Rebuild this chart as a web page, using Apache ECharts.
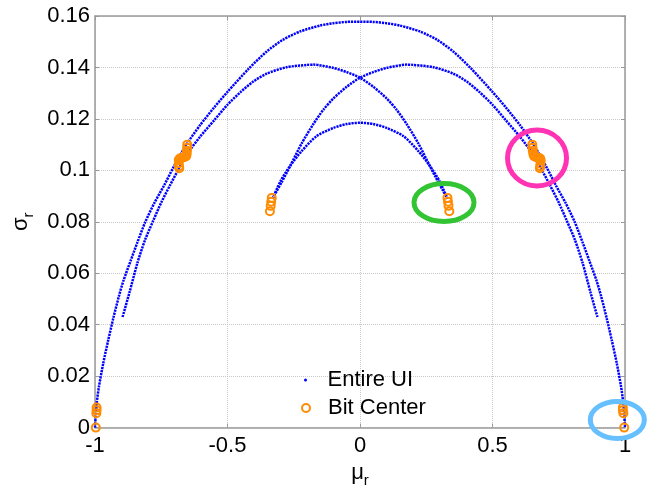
<!DOCTYPE html>
<html>
<head>
<meta charset="utf-8">
<script src="https://cdn.jsdelivr.net/npm/echarts@6/dist/echarts.min.js"></script>
<style>
html,body{margin:0;padding:0;background:#fff;}
#chart{width:648px;height:493px;}
</style>
</head>
<body>
<div id="chart"></div>
<script>
// ---- data (mu_r, sigma_r) ----
var xTicks = [-1, -0.5, 0, 0.5, 1];
var yTicks = [0, 0.02, 0.04, 0.06, 0.08, 0.1, 0.12, 0.14, 0.16];

// outer arc of "Entire UI"
var entireOuter = [
  [-1.000, 0.000], [-0.997, 0.005], [-0.993, 0.010], [-0.985, 0.016],
  [-0.969, 0.025], [-0.950, 0.034], [-0.931, 0.0425], [-0.910, 0.051],
  [-0.893, 0.057], [-0.865, 0.065], [-0.840, 0.072], [-0.810, 0.080],
  [-0.775, 0.0875], [-0.740, 0.094], [-0.705, 0.101], [-0.655, 0.110],
  [-0.604, 0.1175], [-0.550, 0.1245], [-0.500, 0.1305], [-0.420, 0.1395],
  [-0.352, 0.1462], [-0.290, 0.1508], [-0.226, 0.1540], [-0.150, 0.1563],
  [-0.100, 0.1572], [-0.050, 0.1577], [0.000, 0.1578],
  [0.050, 0.1577], [0.100, 0.1572], [0.150, 0.1563], [0.226, 0.1540],
  [0.290, 0.1508], [0.352, 0.1462], [0.420, 0.1395], [0.500, 0.1305],
  [0.550, 0.1245], [0.604, 0.1175], [0.655, 0.110], [0.705, 0.101],
  [0.740, 0.094], [0.775, 0.0875], [0.810, 0.080], [0.840, 0.072],
  [0.865, 0.065], [0.893, 0.057], [0.910, 0.051], [0.931, 0.0425],
  [0.950, 0.034], [0.969, 0.025], [0.985, 0.016], [0.993, 0.010],
  [0.997, 0.005], [1.000, 0.000]
];
// branch starting low-left, peaking left of centre, ending near +0.33
var entireLeftPeak = [
  [-0.896, 0.043], [-0.870, 0.0525], [-0.840, 0.064], [-0.811, 0.073],
  [-0.780, 0.0805], [-0.750, 0.0875], [-0.718, 0.094], [-0.685, 0.1004],
  [-0.655, 0.106], [-0.604, 0.113], [-0.550, 0.1195], [-0.500, 0.1255],
  [-0.450, 0.1305], [-0.403, 0.1345], [-0.352, 0.1376], [-0.277, 0.1401],
  [-0.200, 0.1410], [-0.176, 0.1411], [-0.100, 0.1398], [-0.050, 0.1382],
  [0.000, 0.1360], [0.050, 0.1325], [0.100, 0.1280], [0.138, 0.1236],
  [0.176, 0.1180], [0.220, 0.1105], [0.262, 0.1020], [0.295, 0.0955],
  [0.315, 0.0918], [0.330, 0.0890]
];
// mirror branch: starting near -0.33, peaking right of centre, ending low-right
var entireRightPeak = [
  [-0.330, 0.0890], [-0.315, 0.0918], [-0.295, 0.0955], [-0.262, 0.1020],
  [-0.220, 0.1105], [-0.176, 0.1180], [-0.138, 0.1236], [-0.100, 0.1280],
  [-0.050, 0.1325], [0.000, 0.1360], [0.050, 0.1382], [0.100, 0.1398],
  [0.176, 0.1411], [0.200, 0.1410], [0.277, 0.1401], [0.352, 0.1376],
  [0.403, 0.1345], [0.450, 0.1305], [0.500, 0.1255], [0.550, 0.1195],
  [0.604, 0.113], [0.655, 0.106], [0.685, 0.1004], [0.718, 0.094],
  [0.750, 0.0875], [0.780, 0.0805], [0.811, 0.073], [0.840, 0.064],
  [0.870, 0.0525], [0.896, 0.043]
];
// inner arc
var entireInner = [
  [-0.330, 0.0890], [-0.300, 0.0958], [-0.264, 0.1017], [-0.220, 0.1075],
  [-0.164, 0.1133], [-0.100, 0.1165], [-0.050, 0.1180], [0.000, 0.1185],
  [0.050, 0.1180], [0.100, 0.1165], [0.164, 0.1133], [0.220, 0.1075],
  [0.264, 0.1017], [0.300, 0.0958], [0.330, 0.0890]
];
// "Bit Center" samples
var bitCenter = [
  [-0.997, 0.000], [-0.995, 0.0056], [-0.994, 0.0067], [-0.994, 0.0078],
  [-0.652, 0.1100], [-0.652, 0.1088], [-0.653, 0.1076], [-0.654, 0.1064],
  [-0.656, 0.1055], [-0.662, 0.1052], [-0.668, 0.1050], [-0.674, 0.1048],
  [-0.680, 0.1046], [-0.684, 0.1040], [-0.684, 0.1028], [-0.683, 0.1016],
  [-0.682, 0.1008],
  [-0.333, 0.0893], [-0.335, 0.0878], [-0.337, 0.0862], [-0.340, 0.0841],
  [0.330, 0.0893], [0.332, 0.0878], [0.334, 0.0862], [0.337, 0.0841],
  [0.650, 0.1100], [0.651, 0.1088], [0.652, 0.1076], [0.654, 0.1064],
  [0.657, 0.1055], [0.663, 0.1052], [0.669, 0.1050], [0.675, 0.1048],
  [0.680, 0.1046], [0.682, 0.1038], [0.681, 0.1026], [0.680, 0.1016],
  [0.679, 0.1008],
  [0.992, 0.0078], [0.992, 0.0067], [0.994, 0.0056], [0.997, 0.000]
];
// annotation ellipse centres (data coords)
var annotGreen = [0.317, 0.0875];
var annotPink = [0.668, 0.1048];
var annotBlue = [0.971, 0.0030];

var FONT = 'Liberation Sans, Arial, Helvetica, sans-serif';
var BLUE = '#0000ff';
var ORANGE = '#ff8c00';
var AXIS_GRAY = '#9a9a9a';

var chart = echarts.init(document.getElementById('chart'), null, {renderer: 'canvas'});

function lineSeries(data) {
  return {
    type: 'line', name: 'Entire UI', data: data,
    xAxisIndex: 0, yAxisIndex: 0,
    showSymbol: false, smooth: 0.25, clip: false,
    lineStyle: {color: BLUE, width: 2.5, type: [2.2, 0.9]},
    itemStyle: {color: BLUE},
    z: 3, silent: true
  };
}

var fmt = function (v) { return String(+v.toFixed(2)); };

var option = {
  animation: false,
  backgroundColor: '#ffffff',
  textStyle: {fontFamily: FONT},
  grid: {left: 95, right: 23, top: 16, bottom: 63.5, containLabel: false},
  xAxis: [{
    type: 'value', min: xTicks[0], max: xTicks[xTicks.length - 1], interval: 0.5,
    position: 'bottom',
    axisLine: {show: true, onZero: false, lineStyle: {color: AXIS_GRAY, width: 1.5}},
    axisTick: {show: true, inside: true, length: 4, lineStyle: {color: AXIS_GRAY}},
    axisLabel: {color: '#000', fontSize: 22, fontFamily: FONT, margin: 7, formatter: fmt},
    splitLine: {show: true, lineStyle: {color: '#c8c8c8', type: 'dotted', width: 1}},
    name: '{m|\u03bc}{s|r}', nameLocation: 'middle', nameGap: 30,
    nameTextStyle: {color: '#000', fontFamily: FONT,
      rich: {m: {fontSize: 22, fontFamily: FONT, color: '#000', padding: [0, 0, 8, 0]},
             s: {fontSize: 15, fontFamily: FONT, color: '#000', padding: [8, 0, 0, 0]}}}
  }, {
    type: 'value', min: xTicks[0], max: xTicks[xTicks.length - 1], interval: 0.5,
    position: 'top',
    axisLine: {show: true, onZero: false, lineStyle: {color: AXIS_GRAY, width: 1.5}},
    axisTick: {show: true, inside: true, length: 4, lineStyle: {color: AXIS_GRAY}},
    axisLabel: {show: false}, splitLine: {show: false}
  }],
  yAxis: [{
    type: 'value', min: yTicks[0], max: yTicks[yTicks.length - 1], interval: 0.02,
    position: 'left',
    axisLine: {show: true, onZero: false, lineStyle: {color: AXIS_GRAY, width: 1.5}},
    axisTick: {show: true, inside: true, length: 4, lineStyle: {color: AXIS_GRAY}},
    axisLabel: {color: '#000', fontSize: 22, fontFamily: FONT, margin: 5, formatter: fmt},
    splitLine: {show: true, lineStyle: {color: '#c8c8c8', type: 'dotted', width: 1}},
    name: '{m|\u03c3}{s|r}', nameLocation: 'middle', nameGap: 50, nameRotate: 90,
    nameTextStyle: {color: '#000', fontFamily: FONT,
      rich: {m: {fontSize: 22, fontFamily: FONT, color: '#000', padding: [0, 0, 8, 0]},
             s: {fontSize: 15, fontFamily: FONT, color: '#000', padding: [8, 0, 0, 0]}}}
  }, {
    type: 'value', min: yTicks[0], max: yTicks[yTicks.length - 1], interval: 0.02,
    position: 'right',
    axisLine: {show: true, onZero: false, lineStyle: {color: AXIS_GRAY, width: 1.5}},
    axisTick: {show: true, inside: true, length: 4, lineStyle: {color: AXIS_GRAY}},
    axisLabel: {show: false}, splitLine: {show: false}
  }],
  legend: [{
    orient: 'vertical', left: 304, top: 369, selectedMode: false,
    itemWidth: 34, itemHeight: 3, padding: 0,
    textStyle: {fontSize: 22, fontFamily: FONT, color: '#000', lineHeight: 22},
    data: [{name: 'Entire UI', icon: 'circle', itemStyle: {color: BLUE}}]
  }, {
    orient: 'vertical', left: 301, top: 397, selectedMode: false,
    itemWidth: 34, itemHeight: 8, padding: 0,
    textStyle: {fontSize: 22, fontFamily: FONT, color: '#000', lineHeight: 22},
    data: [{name: 'Bit Center', icon: 'circle',
            itemStyle: {color: 'rgba(255,255,255,0)', borderColor: ORANGE, borderWidth: 2}}]
  }],
  series: [
    lineSeries(entireOuter),
    lineSeries(entireLeftPeak),
    lineSeries(entireRightPeak),
    lineSeries(entireInner),
    {
      type: 'scatter', name: 'Bit Center', data: bitCenter,
      xAxisIndex: 0, yAxisIndex: 0,
      symbol: 'circle', symbolSize: 8, clip: false,
      itemStyle: {color: 'rgba(255,255,255,0)', borderColor: ORANGE, borderWidth: 2, opacity: 1},
      z: 5, silent: true
    }
  ]
};
chart.setOption(option);

function px(p) { return chart.convertToPixel({gridIndex: 0}, p); }
var g = px(annotGreen), pk = px(annotPink), b = px(annotBlue);
chart.setOption({
  graphic: [
    {type: 'ellipse', shape: {cx: g[0], cy: g[1], rx: 30, ry: 19}, z: 100,
     style: {fill: 'none', stroke: '#33c433', lineWidth: 5}},
    {type: 'ellipse', shape: {cx: pk[0], cy: pk[1], rx: 29.5, ry: 28}, z: 100,
     style: {fill: 'none', stroke: '#ff33b4', lineWidth: 5}},
    {type: 'ellipse', shape: {cx: b[0], cy: b[1], rx: 27, ry: 18.5}, z: 100,
     style: {fill: 'none', stroke: '#66c0ff', lineWidth: 5}}
  ]
});
</script>
</body>
</html>
